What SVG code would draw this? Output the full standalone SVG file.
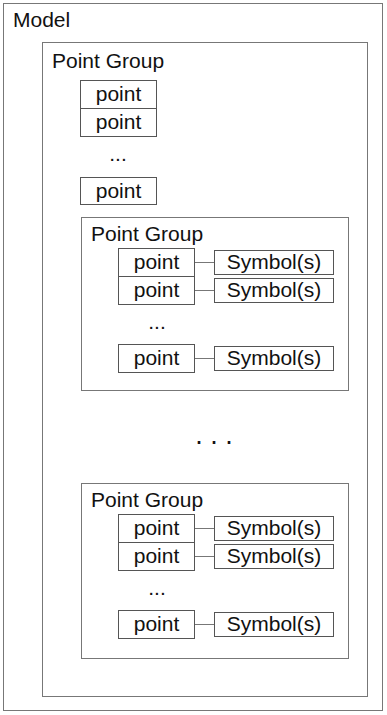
<svg xmlns="http://www.w3.org/2000/svg" width="387" height="715" viewBox="0 0 387 715">
<style>
text{font-family:"Liberation Sans",Arial,sans-serif;font-size:21px;fill:#111}
.c{text-anchor:middle}
.frame{fill:none;stroke:#777;stroke-width:1}
.box{fill:#fff;stroke:#555;stroke-width:1}
.conn{stroke:#777;stroke-width:1;fill:none}
</style>
<rect width="387" height="715" fill="#fff"/>
<g id="model">
<rect class="frame" x="3.5" y="3.5" width="379" height="707"/>
<text x="13" y="27">Model</text>
</g>
<g id="group-top">
<rect class="frame" x="42.5" y="42.5" width="325" height="654"/>
<text x="52" y="68">Point Group</text>
</g>
<g id="top-point-1"><rect class="box" x="80.5" y="80.5" width="76" height="28"/><text class="c" x="118.5" y="101">point</text></g>
<g id="top-point-2"><rect class="box" x="80.5" y="108.5" width="76" height="28"/><text class="c" x="118.5" y="129">point</text></g>
<text class="c" x="118" y="161">...</text>
<g id="top-point-3"><rect class="box" x="80.5" y="177.5" width="76" height="27"/><text class="c" x="118.5" y="198">point</text></g>

<g id="group-a">
<rect class="frame" x="81.5" y="217.5" width="267" height="173"/>
<text x="91" y="241">Point Group</text>
</g>
<g id="a-point-1"><rect class="box" x="118.5" y="248.5" width="76" height="28"/><text class="c" x="156.5" y="269">point</text></g>
<g id="a-point-2"><rect class="box" x="118.5" y="276.5" width="76" height="28"/><text class="c" x="156.5" y="297">point</text></g>
<g id="a-point-3"><rect class="box" x="118.5" y="344.5" width="76" height="28"/><text class="c" x="156.5" y="365">point</text></g>
<g id="a-sym-1"><rect class="box" x="214.5" y="250.5" width="119" height="24"/><text class="c" x="274" y="269">Symbol(s)</text></g>
<g id="a-sym-2"><rect class="box" x="214.5" y="278.5" width="119" height="24"/><text class="c" x="274" y="297">Symbol(s)</text></g>
<g id="a-sym-3"><rect class="box" x="214.5" y="346.5" width="119" height="24"/><text class="c" x="274" y="365">Symbol(s)</text></g>
<text class="c" x="157" y="329">...</text>

<text class="c" x="214" y="444" style="font-size:27px">. . .</text>

<g id="group-b">
<rect class="frame" x="81.5" y="483.5" width="267" height="175"/>
<text x="91" y="507">Point Group</text>
</g>
<g id="b-point-1"><rect class="box" x="118.5" y="514.5" width="76" height="28"/><text class="c" x="156.5" y="535">point</text></g>
<g id="b-point-2"><rect class="box" x="118.5" y="542.5" width="76" height="28"/><text class="c" x="156.5" y="563">point</text></g>
<g id="b-point-3"><rect class="box" x="118.5" y="610.5" width="76" height="28"/><text class="c" x="156.5" y="631">point</text></g>
<g id="b-sym-1"><rect class="box" x="214.5" y="516.5" width="119" height="24"/><text class="c" x="274" y="535">Symbol(s)</text></g>
<g id="b-sym-2"><rect class="box" x="214.5" y="544.5" width="119" height="24"/><text class="c" x="274" y="563">Symbol(s)</text></g>
<g id="b-sym-3"><rect class="box" x="214.5" y="612.5" width="119" height="24"/><text class="c" x="274" y="631">Symbol(s)</text></g>
<text class="c" x="157" y="595">...</text>

<g id="connectors">
<line class="conn" x1="195" y1="262.5" x2="214" y2="262.5"/>
<line class="conn" x1="195" y1="290.5" x2="214" y2="290.5"/>
<line class="conn" x1="195" y1="358.5" x2="214" y2="358.5"/>
<line class="conn" x1="195" y1="528.5" x2="214" y2="528.5"/>
<line class="conn" x1="195" y1="556.5" x2="214" y2="556.5"/>
<line class="conn" x1="195" y1="624.5" x2="214" y2="624.5"/>
</g>
</svg>
